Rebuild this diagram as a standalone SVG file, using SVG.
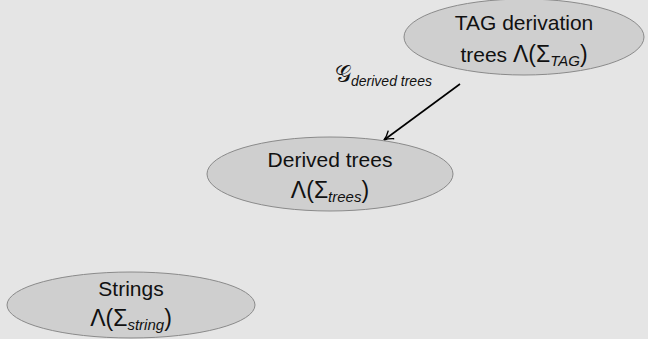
<svg xmlns="http://www.w3.org/2000/svg" width="648" height="339" viewBox="0 0 648 339">
  <style>
    .node ellipse { fill: #cfcfcf; stroke: #8a8a8a; stroke-width: 1; }
    .lbl { font-family: "Liberation Sans", "DejaVu Sans", sans-serif; font-size: 21px; fill: #111; text-anchor: middle; }
    .sym { font-size: 23px; }
    .sub { font-style: italic; font-size: 15px; }
    .edge { stroke: #000; stroke-width: 1.6; fill: none; }
    .elabel { font-family: "Liberation Sans", "DejaVu Sans", sans-serif; font-size: 14px; font-style: italic; fill: #111; }
    .script { font-family: "DejaVu Sans", "Noto Sans", sans-serif; font-style: normal; font-size: 23px; }
  </style>
  <defs>
    <marker id="arrow" viewBox="0 0 12 12" refX="10" refY="6" markerWidth="12" markerHeight="12" markerUnits="userSpaceOnUse" orient="auto">
      <path d="M1,1 Q6,5 10,6 Q6,7 1,11" fill="none" stroke="#000" stroke-width="1.4"/>
    </marker>
  </defs>
  <rect width="648" height="339" fill="#e5e5e5"/>

  <g id="connectors">
    <line class="edge" x1="460" y1="84" x2="384" y2="140" marker-end="url(#arrow)"/>
    <text class="elabel" x="335" y="82"><tspan class="script">𝒢</tspan><tspan dy="4">derived trees</tspan></text>
  </g>

  <g id="tag-derivation" class="node">
    <ellipse cx="524" cy="37" rx="120" ry="38"/>
    <text class="lbl" x="524" y="30">TAG derivation</text>
    <text class="lbl" x="524" y="62">trees <tspan class="sym">Λ(Σ</tspan><tspan class="sub" dy="4">TAG</tspan><tspan class="sym" dy="-4">)</tspan></text>
  </g>

  <g id="derived-trees" class="node">
    <ellipse cx="330" cy="174" rx="123" ry="37"/>
    <text class="lbl" x="330" y="167">Derived trees</text>
    <text class="lbl" x="330" y="198"><tspan class="sym">Λ(Σ</tspan><tspan class="sub" dy="4">trees</tspan><tspan class="sym" dy="-4">)</tspan></text>
  </g>

  <g id="strings" class="node">
    <ellipse cx="131" cy="305" rx="124" ry="33"/>
    <text class="lbl" x="131" y="296">Strings</text>
    <text class="lbl" x="131" y="326"><tspan class="sym">Λ(Σ</tspan><tspan class="sub" dy="4">string</tspan><tspan class="sym" dy="-4">)</tspan></text>
  </g>
</svg>
